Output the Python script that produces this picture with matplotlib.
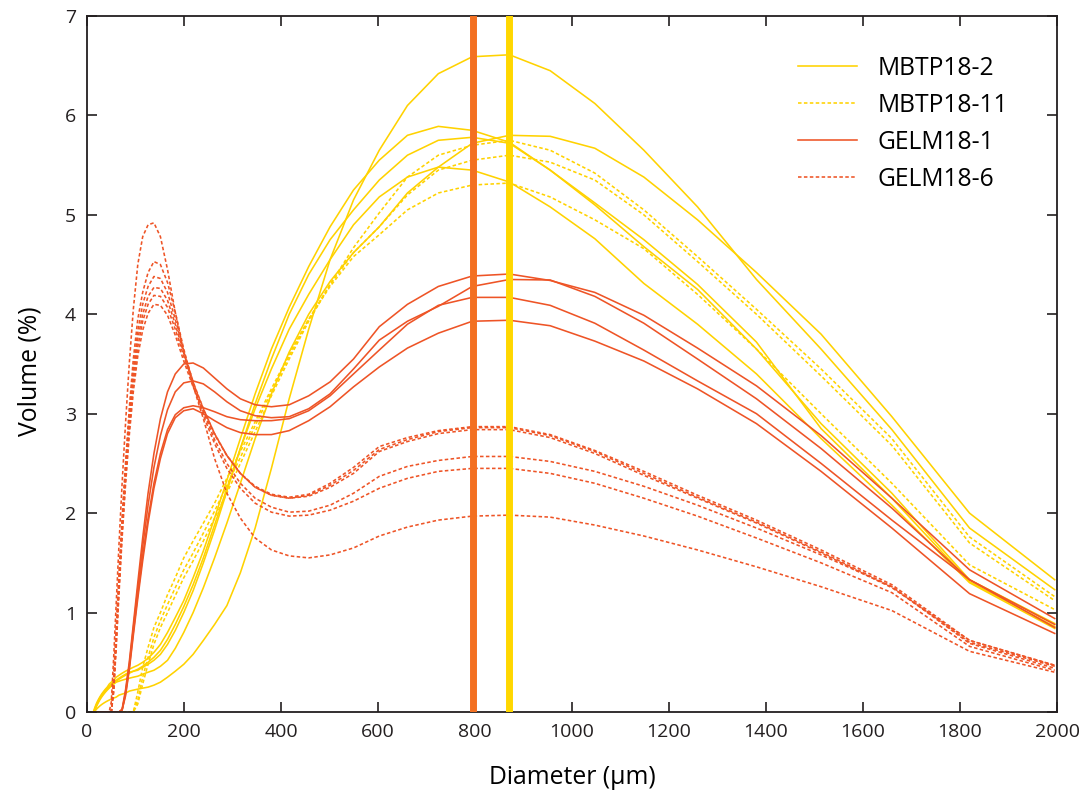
import matplotlib
matplotlib.use("Agg")
import matplotlib.pyplot as plt

plt.rcParams['font.family'] = ['Open Sans', 'DejaVu Sans']

# ---------------- data ----------------
diameter = [12.6, 13.8, 15.1, 16.6, 18.2, 19.9, 21.9, 24.0, 26.3, 28.8,
            31.6, 34.7, 38.0, 41.7, 45.7, 50.1, 55.0, 60.3, 66.1, 72.4,
            79.4, 87.1, 95.5, 104.7, 114.8, 125.9, 138.0, 151.4, 166.0, 182.0,
            199.5, 218.8, 239.9, 263.0, 288.4, 316.2, 346.7, 380.2, 416.9, 457.1,
            501.2, 549.5, 602.6, 660.7, 724.4, 794.3, 871.0, 955.0, 1047.1, 1148.2,
            1258.9, 1380.4, 1513.6, 1659.6, 1819.7, 1995.3]

mbtp18_2 = [
    [0, 0, 0, 0.01, 0.02, 0.03, 0.04, 0.05, 0.06, 0.07,
     0.08, 0.09, 0.10, 0.11, 0.12, 0.13, 0.14, 0.15, 0.17, 0.18,
     0.19, 0.21, 0.22, 0.23, 0.24, 0.25, 0.27, 0.30, 0.35, 0.41,
     0.48, 0.58, 0.72, 0.88, 1.07, 1.40, 1.85, 2.45, 3.15, 3.85,
     4.55, 5.15, 5.65, 6.10, 6.42, 6.59, 6.61, 6.45, 6.12, 5.65,
     5.08, 4.35, 3.65, 2.84, 1.85, 1.23],
    [0, 0, 0.01, 0.02, 0.04, 0.06, 0.08, 0.10, 0.12, 0.14,
     0.16, 0.18, 0.20, 0.22, 0.24, 0.26, 0.28, 0.30, 0.31, 0.32,
     0.33, 0.34, 0.35, 0.36, 0.38, 0.40, 0.42, 0.46, 0.52, 0.64,
     0.80, 1.00, 1.25, 1.55, 1.90, 2.30, 2.75, 3.20, 3.62, 4.00,
     4.33, 4.62, 4.88, 5.22, 5.48, 5.72, 5.80, 5.79, 5.67, 5.38,
     4.95, 4.42, 3.80, 2.97, 2.00, 1.33],
    [0, 0.01, 0.03, 0.05, 0.07, 0.09, 0.11, 0.13, 0.15, 0.17,
     0.19, 0.21, 0.23, 0.25, 0.28, 0.30, 0.32, 0.35, 0.37, 0.39,
     0.41, 0.43, 0.45, 0.47, 0.50, 0.54, 0.60, 0.68, 0.80, 0.95,
     1.12, 1.35, 1.62, 1.95, 2.33, 2.75, 3.20, 3.65, 4.07, 4.48,
     4.88, 5.25, 5.55, 5.80, 5.89, 5.85, 5.73, 5.45, 5.10, 4.68,
     4.25, 3.65, 2.90, 2.20, 1.33, 0.89],
    [0, 0, 0.02, 0.04, 0.06, 0.08, 0.10, 0.12, 0.14, 0.16,
     0.18, 0.20, 0.22, 0.24, 0.26, 0.28, 0.30, 0.32, 0.34, 0.36,
     0.38, 0.40, 0.41, 0.42, 0.45, 0.48, 0.52, 0.58, 0.68, 0.82,
     1.00, 1.22, 1.50, 1.83, 2.22, 2.65, 3.10, 3.55, 4.00, 4.40,
     4.75, 5.05, 5.35, 5.60, 5.75, 5.78, 5.72, 5.45, 5.12, 4.75,
     4.30, 3.72, 2.85, 2.15, 1.31, 0.86],
    [0, 0, 0.01, 0.03, 0.05, 0.07, 0.09, 0.11, 0.13, 0.15,
     0.17, 0.19, 0.21, 0.23, 0.25, 0.27, 0.29, 0.31, 0.33, 0.35,
     0.37, 0.39, 0.41, 0.43, 0.46, 0.50, 0.55, 0.62, 0.73, 0.88,
     1.06, 1.28, 1.55, 1.88, 2.25, 2.65, 3.05, 3.45, 3.85, 4.20,
     4.55, 4.90, 5.18, 5.38, 5.48, 5.45, 5.33, 5.08, 4.76, 4.31,
     3.90, 3.40, 2.75, 2.08, 1.30, 0.84],
]

mbtp18_11 = [
    [0, 0, 0, 0, 0, 0, 0, 0, 0, 0,
     0, 0, 0, 0, 0, 0, 0, 0, 0, 0,
     0, 0, 0, 0.08, 0.28, 0.48, 0.68, 0.85, 1.00, 1.17,
     1.35, 1.52, 1.72, 1.95, 2.20, 2.50, 2.82, 3.18, 3.55, 3.93,
     4.30, 4.67, 5.02, 5.38, 5.60, 5.70, 5.75, 5.65, 5.42, 5.05,
     4.58, 4.05, 3.45, 2.75, 1.76, 1.16],
    [0, 0, 0, 0, 0, 0, 0, 0, 0, 0,
     0, 0, 0, 0, 0, 0, 0, 0, 0, 0,
     0, 0, 0, 0.12, 0.35, 0.55, 0.75, 0.92, 1.08, 1.25,
     1.43, 1.60, 1.80, 2.02, 2.28, 2.56, 2.88, 3.22, 3.58, 3.95,
     4.30, 4.62, 4.88, 5.20, 5.45, 5.55, 5.60, 5.53, 5.35, 5.00,
     4.53, 4.00, 3.38, 2.68, 1.70, 1.12],
    [0, 0, 0, 0, 0, 0, 0, 0, 0, 0,
     0, 0, 0, 0, 0, 0, 0, 0, 0, 0,
     0, 0, 0, 0.20, 0.45, 0.65, 0.85, 1.00, 1.18, 1.35,
     1.55, 1.72, 1.90, 2.10, 2.35, 2.62, 2.92, 3.25, 3.60, 3.95,
     4.28, 4.58, 4.80, 5.05, 5.22, 5.30, 5.32, 5.18, 4.95, 4.66,
     4.20, 3.65, 3.00, 2.30, 1.48, 1.03],
]

gelm18_1 = [
    [0, 0, 0, 0, 0, 0, 0, 0, 0, 0,
     0, 0, 0, 0, 0, 0, 0, 0, 0.0, 0.03,
     0.22, 0.50, 0.88, 1.30, 1.75, 2.20, 2.60, 2.95, 3.22, 3.40,
     3.50, 3.51, 3.46, 3.36, 3.25, 3.15, 3.09, 3.07, 3.09, 3.18,
     3.32, 3.55, 3.875, 4.10, 4.28, 4.385, 4.405, 4.34, 4.22, 3.99,
     3.66, 3.28, 2.78, 2.15, 1.43, 0.94],
    [0, 0, 0, 0, 0, 0, 0, 0, 0, 0,
     0, 0, 0, 0, 0, 0, 0, 0, 0.0, 0.02,
     0.20, 0.47, 0.84, 1.24, 1.66, 2.08, 2.46, 2.78, 3.04, 3.22,
     3.31, 3.33, 3.30, 3.22, 3.12, 3.03, 2.98, 2.96, 2.97, 3.05,
     3.20, 3.45, 3.74, 3.93, 4.08, 4.28, 4.35, 4.345, 4.18, 3.91,
     3.55, 3.15, 2.65, 2.05, 1.33, 0.88],
    [0, 0, 0, 0, 0, 0, 0, 0, 0, 0,
     0, 0, 0, 0, 0, 0, 0, 0, 0.0, 0.02,
     0.18, 0.44, 0.80, 1.18, 1.57, 1.95, 2.30, 2.60, 2.84, 2.99,
     3.06, 3.08, 3.06, 3.02, 2.97, 2.94, 2.93, 2.93, 2.95, 3.03,
     3.18, 3.40, 3.64, 3.90, 4.09, 4.17, 4.17, 4.09, 3.91, 3.64,
     3.33, 3.00, 2.50, 1.93, 1.33, 0.85],
    [0, 0, 0, 0, 0, 0, 0, 0, 0, 0,
     0, 0, 0, 0, 0, 0, 0, 0, 0.0, 0.02,
     0.16, 0.42, 0.77, 1.14, 1.52, 1.90, 2.25, 2.55, 2.80, 2.96,
     3.03, 3.05, 3.00, 2.93, 2.86, 2.81, 2.79, 2.79, 2.83, 2.93,
     3.07, 3.27, 3.47, 3.66, 3.81, 3.93, 3.94, 3.885, 3.73, 3.53,
     3.25, 2.90, 2.42, 1.85, 1.19, 0.79],
]

gelm18_6 = [
    [0, 0, 0, 0, 0, 0, 0, 0, 0, 0,
     0, 0, 0, 0, 0.0, 0.10, 0.55, 1.10, 1.70, 2.30,
     2.90, 3.50, 4.05, 4.50, 4.78, 4.90, 4.92, 4.78, 4.45, 4.02,
     3.62, 3.28, 2.95, 2.55, 2.20, 1.95, 1.75, 1.63, 1.57, 1.55,
     1.58, 1.65, 1.77, 1.86, 1.93, 1.97, 1.98, 1.96, 1.88, 1.77,
     1.63, 1.46, 1.26, 1.02, 0.61, 0.40],
    [0, 0, 0, 0, 0, 0, 0, 0, 0, 0,
     0, 0, 0, 0, 0, 0.0, 0.35, 0.85, 1.40, 1.95,
     2.50, 3.05, 3.55, 3.95, 4.22, 4.42, 4.53, 4.50, 4.32, 4.02,
     3.65, 3.30, 2.98, 2.70, 2.45, 2.25, 2.10, 2.01, 1.97, 1.98,
     2.03, 2.12, 2.25, 2.35, 2.42, 2.45, 2.45, 2.40, 2.30, 2.15,
     1.97, 1.75, 1.50, 1.20, 0.66, 0.42],
    [0, 0, 0, 0, 0, 0, 0, 0, 0, 0,
     0, 0, 0, 0, 0, 0.0, 0.30, 0.80, 1.35, 1.90,
     2.45, 2.97, 3.45, 3.83, 4.10, 4.28, 4.38, 4.36, 4.22, 3.95,
     3.63, 3.32, 3.02, 2.74, 2.50, 2.30, 2.15, 2.06, 2.01, 2.02,
     2.08, 2.20, 2.37, 2.47, 2.53, 2.57, 2.57, 2.52, 2.42, 2.27,
     2.08, 1.85, 1.58, 1.26, 0.69, 0.44],
    [0, 0, 0, 0, 0, 0, 0, 0, 0, 0,
     0, 0, 0, 0, 0, 0.0, 0.25, 0.75, 1.30, 1.85,
     2.40, 2.92, 3.38, 3.75, 4.00, 4.18, 4.27, 4.26, 4.14, 3.90,
     3.61, 3.32, 3.05, 2.80, 2.58, 2.40, 2.26, 2.18, 2.15, 2.17,
     2.26, 2.40, 2.62, 2.72, 2.80, 2.84, 2.84, 2.76, 2.60, 2.38,
     2.15, 1.90, 1.60, 1.25, 0.72, 0.47],
    [0, 0, 0, 0, 0, 0, 0, 0, 0, 0,
     0, 0, 0, 0, 0, 0.0, 0.22, 0.70, 1.25, 1.80,
     2.33, 2.85, 3.30, 3.67, 3.93, 4.10, 4.19, 4.18, 4.07, 3.85,
     3.58, 3.30, 3.05, 2.80, 2.58, 2.40, 2.26, 2.18, 2.15, 2.18,
     2.28, 2.43, 2.64, 2.74, 2.82, 2.86, 2.86, 2.78, 2.62, 2.40,
     2.16, 1.91, 1.61, 1.26, 0.70, 0.46],
    [0, 0, 0, 0, 0, 0, 0, 0, 0, 0,
     0, 0, 0, 0, 0, 0.0, 0.20, 0.65, 1.20, 1.75,
     2.28, 2.78, 3.22, 3.58, 3.84, 4.01, 4.10, 4.09, 3.99, 3.79,
     3.53, 3.27, 3.03, 2.79, 2.58, 2.40, 2.27, 2.19, 2.16, 2.19,
     2.30, 2.46, 2.67, 2.76, 2.83, 2.87, 2.87, 2.79, 2.63, 2.42,
     2.18, 1.93, 1.63, 1.28, 0.72, 0.47],
]

# modes marked by vertical bars
mode_gelm = 795
mode_mbtp = 871

# ---------------- figure ----------------
YELLOW = '#FFD200'
RED = '#EE5426'
dotted = (0, (2.2, 1.5))

fig = plt.figure(figsize=(10.79, 7.97), dpi=100)
ax = fig.add_axes([87 / 1079, 85 / 797, 970 / 1079, 696 / 797])

groups = [
    ("MBTP18-2", mbtp18_2, YELLOW, '-'),
    ("MBTP18-11", mbtp18_11, YELLOW, dotted),
    ("GELM18-1", gelm18_1, RED, '-'),
    ("GELM18-6", gelm18_6, RED, dotted),
]
for name, curves, col, ls in groups:
    for k, vals in enumerate(curves):
        ax.plot(diameter, vals, color=col, ls=ls, lw=1.15,
                label=name if k == 0 else None)

ax.axvline(mode_gelm, color='#F37021', lw=5, zorder=5)
ax.axvline(mode_mbtp, color='#FFD700', lw=5, zorder=5)

ax.set_xlim(0, 2000)
ax.set_ylim(0, 7)
ax.set_xticks(range(0, 2001, 200))
ax.set_yticks(range(0, 8))

for s in ax.spines.values():
    s.set_linewidth(1.3)
    s.set_color('#231F20')
ax.tick_params(direction='in', length=7, width=1.2, top=True, right=True,
               labelsize=14, colors='#231F20', pad=8)

ax.set_xlabel('Diameter (µm)', fontsize=17.8, labelpad=17)
ax.set_ylabel('Volume (%)', fontsize=17.8)
ax.yaxis.set_label_coords(-0.046, 0.489)

ax.legend(loc='upper right', frameon=False, fontsize=17.7, handlelength=2.4,
          handletextpad=0.85, labelspacing=0.49, borderaxespad=0.6,
          bbox_to_anchor=(0.975, 0.978))

fig.savefig('out.png', dpi=100)
